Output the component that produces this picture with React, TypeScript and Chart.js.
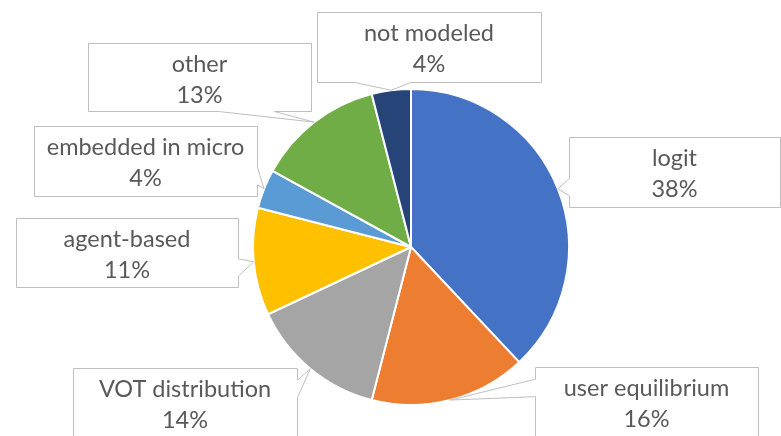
import React, { useEffect, useRef } from "react";
import { Chart, registerables } from "chart.js";

Chart.register(...registerables);

const categories = [
  "logit",
  "user equilibrium",
  "VOT distribution",
  "agent-based",
  "embedded in micro",
  "other",
  "not modeled",
];
const shares = [38, 16, 14, 11, 4, 13, 4];
const sliceColors = ["#4472C4", "#ED7D31", "#A5A5A5", "#FFC000", "#5B9BD5", "#70AD47", "#264478"];

// callout box rectangles [x, y, w, h] (layout only)
const calloutBoxes = [
  [569, 137, 211, 70],
  [535, 367, 223, 70],
  [73, 368, 224, 70],
  [16, 218, 222, 69],
  [34, 126, 223, 70],
  [88, 43, 223, 68],
  [317, 12, 224, 70],
];

const FONT = "23.5px Lato";
const TEXT_COLOR = "#595959";
const BOX_BORDER = "#BFBFBF";

function calloutPath(x: number, y: number, w: number, h: number, tx: number, ty: number) {
  const hc = x + w / 2;
  const vc = y + h / 2;
  const dx = tx - hc;
  const dy = ty - vc;
  const dq = (dx * h) / w;
  const pts: number[][] = [];
  const vertical = Math.abs(dy) > Math.abs(dq);
  const inside = tx >= x && tx <= x + w && ty >= y && ty <= y + h;
  const xg1 = dx > 0 ? 7 : 2;
  const xg2 = dx > 0 ? 10 : 5;
  const yg1 = dy > 0 ? 7 : 2;
  const yg2 = dy > 0 ? 10 : 5;
  const x1 = x + (w * xg1) / 12;
  const x2 = x + (w * xg2) / 12;
  const y1 = y + (h * yg1) / 12;
  const y2 = y + (h * yg2) / 12;
  pts.push([x, y]);
  if (!inside && vertical && dy < 0) {
    pts.push([x1, y], [tx, ty], [x2, y]);
  }
  pts.push([x + w, y]);
  if (!inside && !vertical && dx > 0) {
    pts.push([x + w, y1], [tx, ty], [x + w, y2]);
  }
  pts.push([x + w, y + h]);
  if (!inside && vertical && dy > 0) {
    pts.push([x2, y + h], [tx, ty], [x1, y + h]);
  }
  pts.push([x, y + h]);
  if (!inside && !vertical && dx < 0) {
    pts.push([x, y2], [tx, ty], [x, y1]);
  }
  return pts;
}

const calloutPlugin = {
  id: "callouts",
  afterDatasetsDraw(chart: any) {
    const ctx = chart.ctx as CanvasRenderingContext2D;
    const meta = chart.getDatasetMeta(0);
    const total = shares.reduce((a, b) => a + b, 0);
    ctx.save();
    meta.data.forEach((arc: any, i: number) => {
      const p = arc.getProps(["x", "y", "startAngle", "endAngle", "outerRadius"], true);
      const mid = (p.startAngle + p.endAngle) / 2;
      const tx = p.x + Math.cos(mid) * p.outerRadius;
      const ty = p.y + Math.sin(mid) * p.outerRadius;
      const [bx, by, bw, bh] = calloutBoxes[i];
      const pts = calloutPath(bx + 0.5, by + 0.5, bw, bh, tx, ty);
      ctx.beginPath();
      pts.forEach((pt, k) => (k === 0 ? ctx.moveTo(pt[0], pt[1]) : ctx.lineTo(pt[0], pt[1])));
      ctx.closePath();
      ctx.fillStyle = "#FFFFFF";
      ctx.fill();
      ctx.strokeStyle = BOX_BORDER;
      ctx.lineWidth = 1;
      ctx.stroke();
      ctx.fillStyle = TEXT_COLOR;
      ctx.font = FONT;
      ctx.textAlign = "center";
      ctx.textBaseline = "alphabetic";
      const cx = bx + bw / 2;
      const pct = Math.round((shares[i] / total) * 100) + "%";
      ctx.fillText(categories[i], cx, by + 29);
      ctx.fillText(pct, cx, by + 60);
    });
    ctx.restore();
  },
};

export default function App() {
  const ref = useRef<HTMLCanvasElement | null>(null);
  useEffect(() => {
    if (!ref.current) return;
    const chart = new Chart(ref.current, {
      type: "pie",
      data: {
        labels: categories,
        datasets: [
          {
            data: shares,
            backgroundColor: sliceColors,
            borderColor: "#FFFFFF",
            borderWidth: 2,
            hoverBorderWidth: 2,
            hoverOffset: 0,
          },
        ],
      },
      options: {
        responsive: false,
        animation: false,
        layout: { padding: { left: 41, right: 0, top: 88, bottom: 30 } },
        plugins: {
          legend: { display: false },
          tooltip: { enabled: false },
        },
      },
      plugins: [calloutPlugin],
    });
    return () => chart.destroy();
  }, []);
  return (
    <div style={{ position: "absolute", left: 0, top: 0, width: 781, height: 436, background: "#FFFFFF" }}>
      <canvas ref={ref} width={781} height={436} />
    </div>
  );
}
